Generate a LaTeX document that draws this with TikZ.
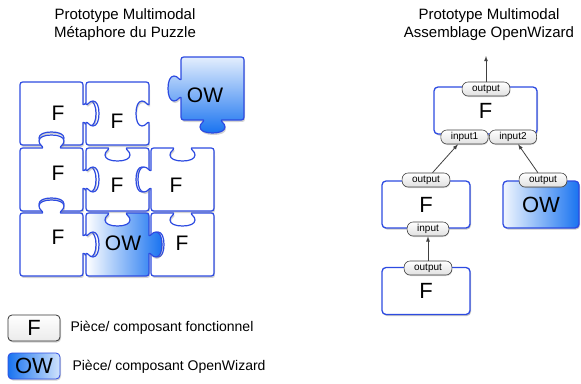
\documentclass[tikz,border=0pt]{standalone}
\usepackage{fontspec}
\setmainfont{Liberation Sans}
\usetikzlibrary{shadows}

\definecolor{rim}{RGB}{45,75,225}
\definecolor{owblue}{RGB}{25,115,240}

% One side of a piece: centre x, y, along x, y, outward x, y, kind (1 tab, -1 hole, 0 flat)
\newcommand\puzzleknob[7]{%
	-- ({#1 - 9*(#3)}, {#2 - 9*(#4)})
	.. controls ({#1 - 8*(#3) + 2*(#7)*(#5)}, {#2 - 8*(#4) + 2*(#7)*(#6)}) and ({#1 - 12.5*(#3) + 3*(#7)*(#5)}, {#2 - 12.5*(#4) + 3*(#7)*(#6)})
	.. ({#1 - 12.5*(#3) + 7*(#7)*(#5)}, {#2 - 12.5*(#4) + 7*(#7)*(#6)})
	.. controls ({#1 - 12.5*(#3) + 11*(#7)*(#5)}, {#2 - 12.5*(#4) + 11*(#7)*(#6)}) and ({#1 - 7*(#3) + 13*(#7)*(#5)}, {#2 - 7*(#4) + 13*(#7)*(#6)})
	.. ({#1 + 13*(#7)*(#5)}, {#2 + 13*(#7)*(#6)})
	.. controls ({#1 + 7*(#3) + 13*(#7)*(#5)}, {#2 + 7*(#4) + 13*(#7)*(#6)}) and ({#1 + 12.5*(#3) + 11*(#7)*(#5)}, {#2 + 12.5*(#4) + 11*(#7)*(#6)})
	.. ({#1 + 12.5*(#3) + 7*(#7)*(#5)}, {#2 + 12.5*(#4) + 7*(#7)*(#6)})
	.. controls ({#1 + 12.5*(#3) + 3*(#7)*(#5)}, {#2 + 12.5*(#4) + 3*(#7)*(#6)}) and ({#1 + 8*(#3) + 2*(#7)*(#5)}, {#2 + 8*(#4) + 2*(#7)*(#6)})
	.. ({#1 + 9*(#3)}, {#2 + 9*(#4)})}

% A whole piece: style, left x, top y, then top, right, bottom, left sides
\newcommand\puzzlepiece[7]{%
	\draw [piece, #1] ({#2 + 6}, {#3})
		\puzzleknob{#2 + 31.5}{#3}{1}{0}{0}{-1}{#4} -- ({#2 + 57}, {#3}) .. controls ({#2 + 63}, {#3}) .. ({#2 + 63}, {#3 + 6})
		\puzzleknob{#2 + 63}{#3 + 31.5}{0}{1}{1}{0}{#5} -- ({#2 + 63}, {#3 + 57}) .. controls ({#2 + 63}, {#3 + 63}) .. ({#2 + 57}, {#3 + 63})
		\puzzleknob{#2 + 31.5}{#3 + 63}{-1}{0}{0}{1}{#6} -- ({#2 + 6}, {#3 + 63}) .. controls ({#2}, {#3 + 63}) .. ({#2}, {#3 + 57})
		\puzzleknob{#2}{#3 + 31.5}{0}{-1}{-1}{0}{#7} -- ({#2}, {#3 + 6}) .. controls ({#2}, {#3}) .. cycle;}

\begin{document}
\begin{tikzpicture}[x = 1pt, y = -1pt, > = latex,
	piece/.style = {draw = rim, line width = 1.2pt, line join = round, fill = white,
		drop shadow = {opacity = 0.35, shadow xshift = 1pt, shadow yshift = -2pt}},
	big/.style = {font = \fontsize{21}{21}\selectfont},
	title/.style = {align = center, font = \fontsize{15}{18}\selectfont},
	comp/.style = {draw = rim, line width = 1.3pt, rounded corners = 4pt, fill = white, minimum height = 47pt,
		font = \fontsize{22}{22}\selectfont, drop shadow = {opacity = 0.45, shadow xshift = 1pt, shadow yshift = -1.5pt}},
	port/.style = {draw = black!75, line width = 0.6pt, rounded corners = 6pt, top color = white, bottom color = black!12,
		inner xsep = 10pt, inner ysep = 1.5pt, minimum height = 14pt, font = \fontsize{10}{10}\selectfont,
		drop shadow = {opacity = 0.3, shadow xshift = 0.5pt, shadow yshift = -1pt}},
	key/.style = {rounded corners = 4pt, inner sep = 0pt, minimum width = 52pt, minimum height = 26pt,
		font = \fontsize{22}{22}\selectfont, drop shadow = {opacity = 0.35, shadow xshift = 1pt, shadow yshift = -1.5pt}},
	keytext/.style = {anchor = west, font = \fontsize{14}{14}\selectfont}]

	\useasboundingbox (0, 0) rectangle (581, 383);

	% Titles

	\node [title] (titlepuzzle) at (125, 25) {Prototype Multimodal\\Métaphore du Puzzle};
	\node [title] (titlewizard) at (489, 25) {Prototype Multimodal\\Assemblage OpenWizard};

	% Draw puzzle

	\foreach \x/\y/\t/\r/\b/\l in {20/82/0/1/-1/0, 86/82/0/-1/0/-1, 20/148/1/1/-1/0, 86/148/-1/-1/0/-1,
		151/148/-1/0/0/1, 20/213/1/1/0/0, 151/213/-1/0/0/-1}
	{
		\puzzlepiece{}{\x}{\y}{\t}{\r}{\b}{\l}
	}
	\puzzlepiece{left color = white, right color = owblue}{86}{213}{-1}{1}{0}{-1}
	\puzzlepiece{top color = owblue!12, bottom color = owblue}{181}{57}{0}{0}{1}{1}

	\node [big] (pf11) at (58, 113) {F};
	\node [big] (pf12) at (117, 121) {F};
	\node [big] (pf21) at (58, 173) {F};
	\node [big] (pf22) at (117, 185) {F};
	\node [big] (pf23) at (176, 185) {F};
	\node [big] (pf31) at (58, 237) {F};
	\node [big] (pow32) at (123, 243) {OW};
	\node [big] (pf33) at (182, 243) {F};
	\node [big] (powfree) at (205, 95) {OW};

	% Draw assembly

	\node [comp, minimum width = 103pt] (ftop) at (485.5, 110.5) {F};
	\node [comp, minimum width = 88pt] (fmid) at (426, 204.5) {F};
	\node [comp, minimum width = 88pt] (flow) at (426, 291) {F};
	\node [comp, minimum width = 76pt, left color = owblue!6, right color = owblue] (owbox) at (541, 204.5) {OW};

	\node [port] (ftopout) at (486, 89) {output};
	\node [port] (ftopina) at (464.5, 137) {input1};
	\node [port] (ftopinb) at (513, 137) {input2};
	\node [port] (fmidout) at (426, 180) {output};
	\node [port] (fmidin) at (428, 229) {input};
	\node [port] (flowout) at (428, 268) {output};
	\node [port] (owout) at (543, 180) {output};

	\coordinate (exit) at (486, 56);

	\draw [->, black!75, line width = 0.8pt] (ftopout) -- (exit);
	\draw [->, black!75, line width = 0.8pt] (fmidout) -- (ftopina);
	\draw [->, black!75, line width = 0.8pt] (owout) -- (ftopinb);
	\draw [->, black!75, line width = 0.8pt] (flowout) -- (fmidin);

	% Legend

	\node [key, draw = black!80, line width = 0.8pt, top color = white, bottom color = black!8] (keyf) at (34, 328) {F};
	\node [key, draw = rim, line width = 0.8pt, left color = owblue, right color = owblue!20] (keyow) at (34, 366) {OW};
	\node [keytext] (keyftext) at (67, 328) {Pièce/ composant fonctionnel};
	\node [keytext] (keyowtext) at (69, 367) {Pièce/ composant OpenWizard};

\end{tikzpicture}
\end{document}
